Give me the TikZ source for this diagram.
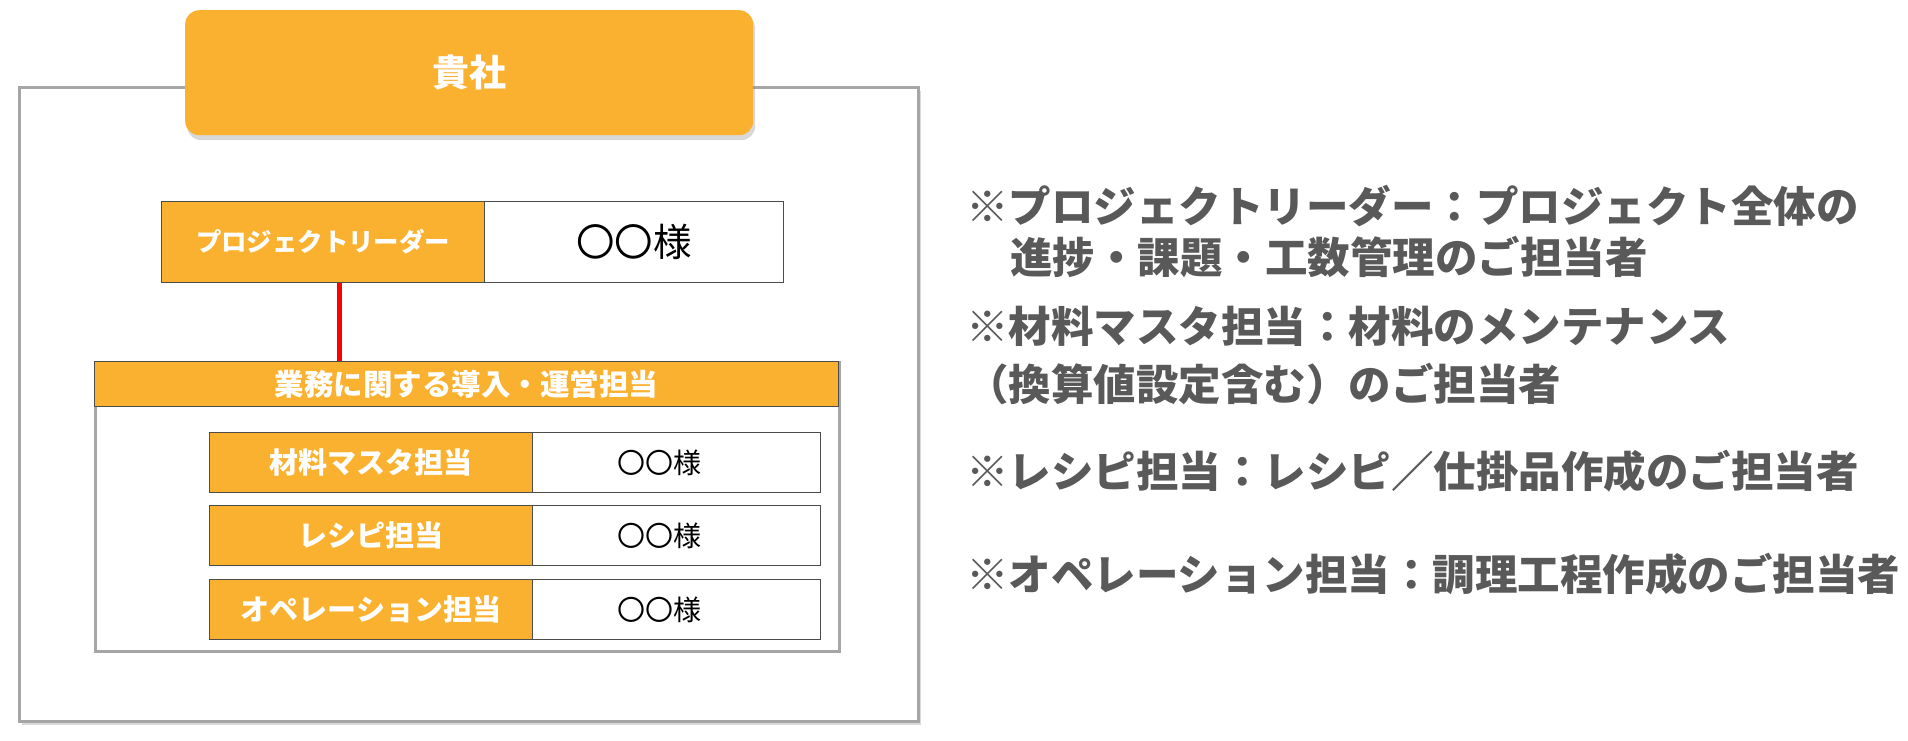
\documentclass[tikz,border=0pt]{standalone}
\usepackage{fontspec}
\setmainfont{Noto Sans CJK JP}
\usetikzlibrary{shadows}
\definecolor{org}{HTML}{FBB130}
\definecolor{gtx}{HTML}{595959}
\tikzset{
  ob/.style={draw=black!70,fill=org,line width=1.2pt,text=white,inner sep=0},
  wb/.style={draw=black!70,fill=white,line width=1.2pt,text=black,inner sep=0},
  note/.style={anchor=west,text=gtx,font=\bfseries\fontsize{42.5}{46}\selectfont,inner sep=0},
}
\begin{document}
\begin{tikzpicture}[x=1pt,y=-1pt]
\useasboundingbox (0,0) rectangle (1908,740);
\node[draw=black!35,line width=2.5pt,fill=white,drop shadow={shadow xshift=3pt,shadow yshift=-4pt,opacity=.3},minimum width=899pt,minimum height=634pt,anchor=north west] (outer) at (18,86) {};
\node[fill=org,rounded corners=14pt,drop shadow={shadow xshift=2pt,shadow yshift=-5pt,opacity=.3},minimum width=568pt,minimum height=125pt,anchor=north west,text=white,font=\bfseries\fontsize{37}{40}\selectfont] (co) at (185,10) {貴社};
\node[ob,minimum width=323pt,minimum height=81pt,anchor=north west,font=\bfseries\fontsize{25.4}{28}\selectfont] (pl) at (161,201) {プロジェクトリーダー};
\node[wb,minimum width=299pt,minimum height=81pt,anchor=north west,font=\fontsize{38.5}{42}\selectfont] (plv) at (484,201) {〇〇様};
\node[draw=black!35,line width=2.5pt,minimum width=744pt,minimum height=289pt,anchor=north west] (grp) at (94,361) {};
\node[ob,minimum width=744pt,minimum height=45pt,anchor=north west,font=\bfseries\fontsize{29.5}{32}\selectfont] (hd) at (94,361) {業務に関する導入・運営担当};
\draw[red,line width=5pt] (pl.south west -| 339,0) -- (hd.north west -| 339,0);
\foreach \t/\y/\n in {材料マスタ担当/432/a,レシピ担当/505/b,オペレーション担当/579/c}{
  \node[ob,minimum width=323pt,minimum height=60pt,anchor=north west,font=\bfseries\fontsize{29}{32}\selectfont] (r\n) at (209,\y) {\t};
  \node[wb,minimum width=288pt,minimum height=60pt,anchor=north west] (v\n) at (532,\y) {};
  \node[font=\fontsize{28}{30}\selectfont,inner sep=0] (t\n) at ([xshift=-17pt]v\n.center) {〇〇様};
}
\node[note] (n1) at (966,206) {※プロジェクトリーダー：プロジェクト全体の};
\node[note] (n2) at (1010,257) {進捗・課題・工数管理のご担当者};
\node[note] (n3) at (966,326) {※材料マスタ担当：材料のメンテナンス};
\node[note] (n4) at (966,384) {（換算値設定含む）のご担当者};
\node[note] (n5) at (966,471) {※レシピ担当：レシピ／仕掛品作成のご担当者};
\node[note] (n6) at (966,574) {※オペレーション担当：調理工程作成のご担当者};
\end{tikzpicture}
\end{document}
